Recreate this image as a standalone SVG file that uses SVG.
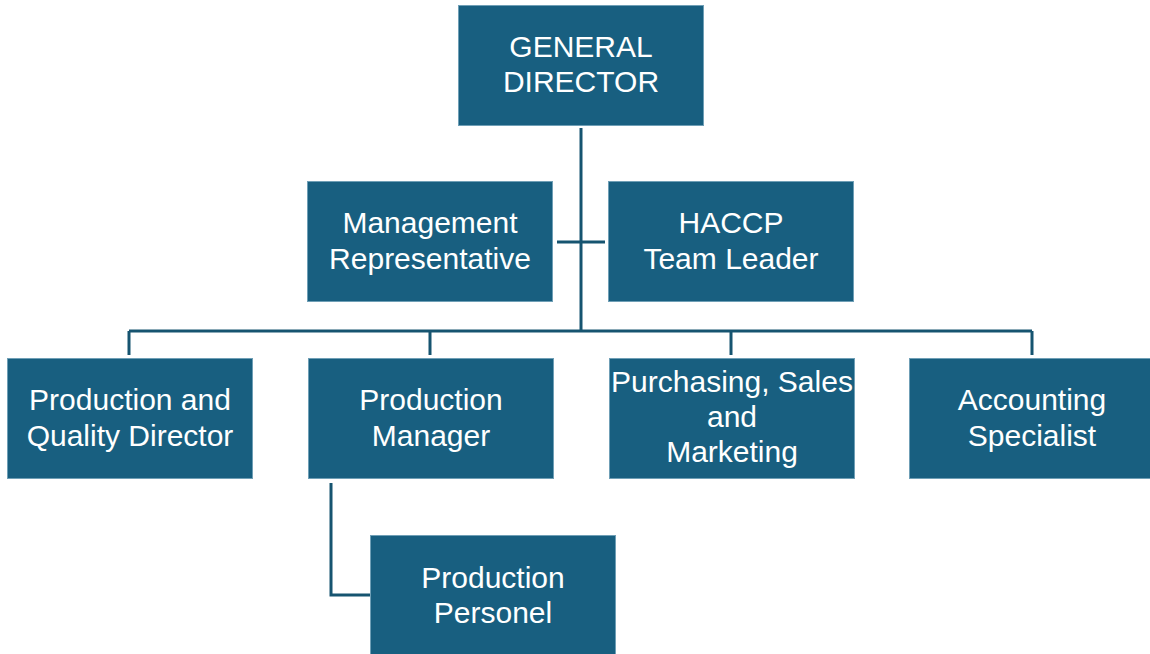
<svg xmlns="http://www.w3.org/2000/svg" width="1150" height="654" viewBox="0 0 1150 654">
<style>
.box{fill:#185f80;stroke:#6f9fb6;stroke-width:1}
.t{font-family:"Liberation Sans",Arial,sans-serif;font-size:30px;fill:#ffffff;text-anchor:middle}
.ln{fill:none;stroke:#165470;stroke-width:3}
</style>
<rect width="1150" height="654" fill="#ffffff"/>
<g id="connectors">
<path class="ln" d="M581 128 V331"/>
<path class="ln" d="M557 242 H605"/>
<path class="ln" d="M129 331 H1032"/>
<path class="ln" d="M129 331 V355 M430 331 V355 M731 331 V355 M1032 331 V355"/>
<path class="ln" d="M331 483 V595 H370"/>
</g>
<g id="general-director">
<rect class="box" x="458.5" y="5.5" width="245" height="120"/>
<text class="t" x="581" y="57">GENERAL</text>
<text class="t" x="581" y="92">DIRECTOR</text>
</g>
<g id="management-representative">
<rect class="box" x="307.5" y="181.5" width="245" height="120"/>
<text class="t" x="430" y="233">Management</text>
<text class="t" x="430" y="269">Representative</text>
</g>
<g id="haccp-team-leader">
<rect class="box" x="608.5" y="181.5" width="245" height="120"/>
<text class="t" x="731" y="233">HACCP</text>
<text class="t" x="731" y="269">Team Leader</text>
</g>
<g id="production-quality-director">
<rect class="box" x="7.5" y="358.5" width="245" height="120"/>
<text class="t" x="130" y="410">Production and</text>
<text class="t" x="130" y="446">Quality Director</text>
</g>
<g id="production-manager">
<rect class="box" x="308.5" y="358.5" width="245" height="120"/>
<text class="t" x="431" y="410">Production</text>
<text class="t" x="431" y="446">Manager</text>
</g>
<g id="purchasing-sales-marketing">
<rect class="box" x="609.5" y="358.5" width="245" height="120"/>
<text class="t" x="732" y="392">Purchasing, Sales</text>
<text class="t" x="732" y="427">and</text>
<text class="t" x="732" y="462">Marketing</text>
</g>
<g id="accounting-specialist">
<rect class="box" x="909.5" y="358.5" width="245" height="120"/>
<text class="t" x="1032" y="410">Accounting</text>
<text class="t" x="1032" y="446">Specialist</text>
</g>
<g id="production-personel">
<rect class="box" x="370.5" y="535.5" width="245" height="125"/>
<text class="t" x="493" y="588">Production</text>
<text class="t" x="493" y="623">Personel</text>
</g>
</svg>
